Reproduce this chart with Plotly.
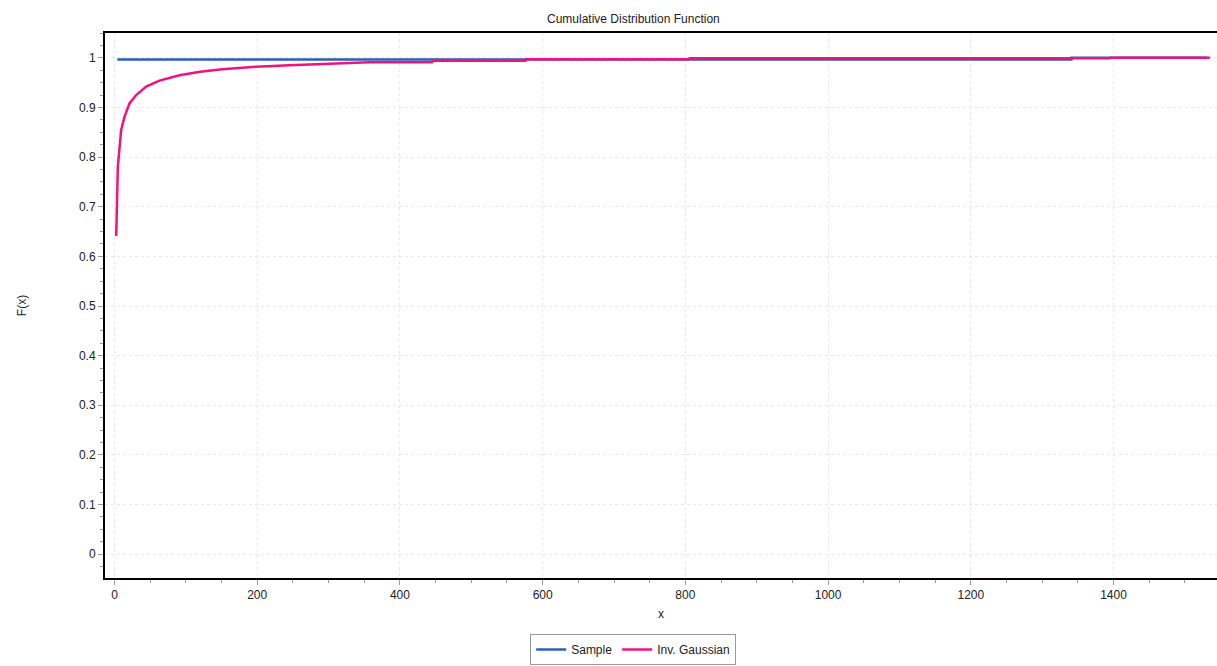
import plotly.graph_objects as go

# Sample empirical CDF (step)
sample_x = [4, 1341, 1531]
sample_y = [0.9965, 1.0, 1.0]

# Inverse Gaussian fitted CDF
ig_x = [2.4, 4.7, 9.3, 14, 21, 30.4, 44.4, 63, 91, 120, 151, 198, 245, 293, 357,
        445, 446, 576, 577, 805, 806, 1394, 1395, 1535]
ig_y = [0.641, 0.781, 0.854, 0.881, 0.908, 0.925, 0.942, 0.954, 0.965, 0.972, 0.977,
        0.982, 0.985, 0.988, 0.991, 0.991, 0.994, 0.994, 0.997, 0.997, 0.999, 0.999,
        1.0, 1.0]

x_ticks = [0, 200, 400, 600, 800, 1000, 1200, 1400]
y_ticks = [0, 0.1, 0.2, 0.3, 0.4, 0.5, 0.6, 0.7, 0.8, 0.9, 1]
y_ticklabels = ["0", "0.1", "0.2", "0.3", "0.4", "0.5", "0.6", "0.7", "0.8", "0.9", "1"]

fig = go.Figure()
fig.add_trace(go.Scatter(x=sample_x, y=sample_y, mode="lines", name="Sample",
                         line=dict(color="#2b5fb4", width=2.5, shape="hv")))
fig.add_trace(go.Scatter(x=ig_x, y=ig_y, mode="lines", name="Inv. Gaussian",
                         line=dict(color="#f2127f", width=2.5)))

font = "Liberation Sans, Arial, sans-serif"
fig.update_layout(
    width=1217, height=666,
    margin=dict(l=105, r=0, t=33, b=88, autoexpand=False),
    paper_bgcolor="white", plot_bgcolor="white",
    font=dict(family=font, size=12, color="#222"),
    showlegend=True,
    legend=dict(orientation="h", x=0.475, xanchor="center", y=-0.1596, yanchor="bottom",
                bordercolor="#9a9a9a", borderwidth=1, font=dict(size=12, color="#222"),
                itemwidth=30, tracegroupgap=0),
    annotations=[
        dict(text="Cumulative Distribution Function", xref="paper", yref="paper",
             x=0.475, y=1, yshift=5, xanchor="center", yanchor="bottom",
             showarrow=False, font=dict(size=12, color="#222")),
    ],
)
fig.update_xaxes(
    range=[-13.3, 1545], tickvals=x_ticks, ticks="outside", ticklen=5, tickcolor="#999",
    showline=True, linecolor="black", linewidth=2, mirror=True, automargin=False,
    showgrid=True, gridcolor="#e8e8e8", griddash="dot", gridwidth=1, zeroline=False,
    minor=dict(dtick=50, tick0=0, ticks="outside", ticklen=3, tickcolor="#999", showgrid=False),
    title=dict(text="x", font=dict(size=12), standoff=8),
)
fig.update_yaxes(
    range=[-0.048, 1.05], tickvals=y_ticks, ticktext=y_ticklabels, ticks="outside",
    ticklen=5, tickcolor="#999", automargin=False,
    showline=True, linecolor="black", linewidth=2,
    showgrid=True, gridcolor="#e8e8e8", griddash="dot", gridwidth=1, zeroline=False,
    minor=dict(dtick=0.025, tick0=0, ticks="outside", ticklen=3, tickcolor="#999", showgrid=False),
    title=dict(text="F(x)", font=dict(size=12), standoff=50),
)
fig.write_html("out.html")
